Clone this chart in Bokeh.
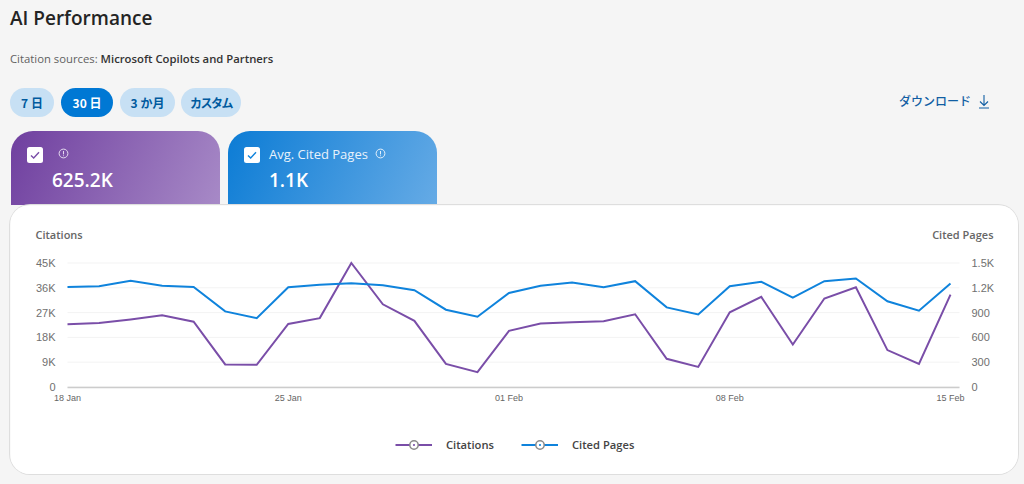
from bokeh.embed import file_html
from bokeh.resources import INLINE
from bokeh.layouts import column
from bokeh.models import (ColumnDataSource, Div, FixedTicker, Label, Legend,
                          LegendItem, LinearAxis, Range1d)
from bokeh.plotting import figure

# values, one per day
dates = ["18 Jan", "19 Jan", "20 Jan", "21 Jan", "22 Jan", "23 Jan", "24 Jan",
         "25 Jan", "26 Jan", "27 Jan", "28 Jan", "29 Jan", "30 Jan", "31 Jan",
         "01 Feb", "02 Feb", "03 Feb", "04 Feb", "05 Feb", "06 Feb", "07 Feb",
         "08 Feb", "09 Feb", "10 Feb", "11 Feb", "12 Feb", "13 Feb", "14 Feb", "15 Feb"]
citations = [22800, 23200, 24500, 26000, 23700, 8200, 8050, 22900, 25000, 45000,
             30000, 24000, 8400, 5400, 20400, 23050, 23500, 23900, 26400, 10250,
             7300, 27100, 32700, 15400, 32100, 36200, 13400, 8400, 33500]
cited_pages = [1211, 1220, 1285, 1224, 1211, 915, 833, 1207, 1236, 1256,
               1232, 1171, 935, 850, 1138, 1224, 1264, 1207, 1280, 963,
               878, 1220, 1272, 1081, 1280, 1313, 1037, 923, 1252]

x_tick_labels = ["18 Jan", "25 Jan", "01 Feb", "08 Feb", "15 Feb"]
left_ticks = [0, 9000, 18000, 27000, 36000, 45000]
left_tick_labels = ["0", "9K", "18K", "27K", "36K", "45K"]
right_ticks = [0, 300, 600, 900, 1200, 1500]
right_tick_labels = ["0", "300", "600", "900", "1.2K", "1.5K"]

periods = ["7 日", "30 日", "3 か月", "カスタム"]
citations_total = "625.2K"
cited_pages_avg = "1.1K"

PURPLE = "#7a4ea8"
BLUE = "#0f83dc"
UI_FONT = "'Open Sans', 'Noto Sans CJK JP', sans-serif"
JP_FONT = "'Noto Sans CJK JP', sans-serif"
TICK_FONT = "Liberation Sans"
SEMIBOLD = "Open Sans SemiBold"


def info_icon(left, top, color):
    return (f'<svg style="position:absolute;left:{left}px;top:{top}px" width="11" height="11" viewBox="0 0 11 11">'
            f'<circle cx="5.5" cy="5.5" r="4.4" fill="none" stroke="{color}" stroke-width="1"/>'
            f'<path d="M5.5 3v3.4M5.5 7.4v.8" stroke="{color}" stroke-width="1"/></svg>')


def checkbox(left, top, color):
    return (f'<svg style="position:absolute;left:{left}px;top:{top}px" width="16" height="16" viewBox="0 0 16 16">'
            f'<rect width="16" height="16" rx="2.5" fill="#fff"/>'
            f'<path d="M4 8.4l2.7 2.6L12 5.3" fill="none" stroke="{color}" stroke-width="1.4"/></svg>')


def header_html():
    parts = [f'<div style="position:relative;width:1024px;height:205px;overflow:hidden;font-family:{UI_FONT}">']
    parts.append(f'<div style="position:absolute;left:10px;top:5px;font:600 19px {UI_FONT};color:#242424;white-space:nowrap">AI Performance</div>')
    parts.append(f'<div style="position:absolute;left:10px;top:51px;font:11.3px {UI_FONT};color:#616161;white-space:nowrap">'
                 f'Citation sources: <span style="font-weight:600;color:#333">Microsoft Copilots and Partners</span></div>')

    pill_left = [10, 61, 120, 181]
    pill_width = [44, 52, 55, 60]
    for i, name in enumerate(periods):
        selected = i == 1
        bg = "#0078d4" if selected else "#c7e0f4"
        fg = "#ffffff" if selected else "#005a9e"
        spacing = "-1.5px" if i == 3 else "0"
        parts.append(f'<div style="position:absolute;left:{pill_left[i]}px;top:88px;width:{pill_width[i]}px;height:29px;'
                     f'border-radius:15px;background:{bg};color:{fg};font:bold 12px/29px {JP_FONT};letter-spacing:{spacing};'
                     f'text-align:center;white-space:nowrap">{name}</div>')

    parts.append(f'<div style="position:absolute;left:899px;top:92px;font:500 12px/18px {JP_FONT};color:#115ea3;white-space:nowrap">ダウンロード</div>')
    parts.append('<svg style="position:absolute;left:978px;top:94px" width="12" height="15" viewBox="0 0 12 15">'
                 '<path d="M6 1v10M2 7.5L6 11.5 10 7.5M1 14h10" fill="none" stroke="#115ea3" stroke-width="1.1"/></svg>')

    # the two metric cards, the chart card covers their lower ends
    parts.append('<div style="position:absolute;left:11px;top:131px;width:209px;height:90px;border-radius:22px 22px 0 0;'
                 'background:linear-gradient(115deg,#6f3f9f 0%,#a98cc8 100%)"></div>')
    parts.append('<div style="position:absolute;left:228px;top:131px;width:209px;height:90px;border-radius:22px 22px 0 0;'
                 'background:linear-gradient(115deg,#0c7cd5 0%,#68ace6 100%)"></div>')
    parts.append(checkbox(27, 147, PURPLE))
    parts.append(checkbox(244, 147, BLUE))
    parts.append(info_icon(58, 148, "#e6dcf0"))
    parts.append(info_icon(375, 148, "#e6f1fb"))
    parts.append(f'<div style="position:absolute;left:269px;top:145px;font:13px/18px {UI_FONT};color:#e8f2fb;white-space:nowrap">Avg. Cited Pages</div>')
    parts.append(f'<div style="position:absolute;left:52px;top:166px;font:600 19px/28px {UI_FONT};color:#fff;white-space:nowrap">{citations_total}</div>')
    parts.append(f'<div style="position:absolute;left:269px;top:166px;font:600 19px/28px {UI_FONT};color:#fff;white-space:nowrap">{cited_pages_avg}</div>')
    parts.append('</div>')
    return "".join(parts)


header = Div(text=header_html(), width=1024, height=205, margin=0)

source = ColumnDataSource(data=dict(x=list(range(len(dates))), date=dates,
                                    citations=citations, cited_pages=cited_pages))

# svg overlays get clipped to the frame, so the frame fills the whole card and the
# axes are pinned inside it. ranges are worked out from the plot area in pixels
CARD_W, CARD_H = 1008, 269
PLOT_LEFT, PLOT_LAST_DAY, PLOT_RIGHT = 57, 940, 949
PLOT_TOP, PLOT_BOTTOM = 57.5, 181.5
days_per_px = (len(dates) - 1) / (PLOT_LAST_DAY - PLOT_LEFT)
value_per_px = max(left_ticks) / (PLOT_BOTTOM - PLOT_TOP)
x_right_edge = (PLOT_RIGHT - PLOT_LEFT) * days_per_px
y_start = -(CARD_H - PLOT_BOTTOM) * value_per_px
y_end = max(left_ticks) + PLOT_TOP * value_per_px
pages_scale = max(right_ticks) / max(left_ticks)

p = figure(width=CARD_W, height=CARD_H, output_backend="svg", toolbar_location=None,
           x_range=Range1d(-PLOT_LEFT * days_per_px, (CARD_W - PLOT_LEFT) * days_per_px),
           y_range=Range1d(y_start, y_end),
           min_border=0, background_fill_color="white", border_fill_color="white",
           outline_line_color=None, margin=(0, 0, 0, 10))
p.styles = {"border-radius": "20px", "overflow": "hidden", "box-shadow": "0 0 0 1px #dedede"}
p.grid.visible = False

p.extra_y_ranges["pages"] = Range1d(y_start * pages_scale, y_end * pages_scale)

# faint rules at the left ticks
p.segment(x0=[0] * len(left_ticks), x1=[x_right_edge] * len(left_ticks), y0=left_ticks, y1=left_ticks,
          color="#f3f3f3", line_width=1)

line_citations = p.line("x", "citations", source=source, color=PURPLE, line_width=2, line_join="miter")
line_pages = p.line("x", "cited_pages", source=source, color=BLUE, line_width=2, line_join="miter",
                    y_range_name="pages")

x_ticks = [dates.index(d) for d in x_tick_labels]
xaxis = p.xaxis[0]
xaxis.fixed_location = 0
xaxis.bounds = (0, x_right_edge)
xaxis.ticker = FixedTicker(ticks=x_ticks)
xaxis.major_label_overrides = dict(zip(x_ticks, x_tick_labels))
xaxis.major_label_text_font = TICK_FONT
xaxis.major_label_text_font_size = "9px"
xaxis.major_label_text_color = "#666666"
xaxis.major_label_standoff = 6
xaxis.major_tick_line_color = None
xaxis.major_tick_out = 0
xaxis.minor_tick_line_color = None
xaxis.axis_line_color = "#cccccc"
xaxis.axis_line_width = 1.5

left_axis = p.yaxis[0]
left_axis.fixed_location = 0
left_axis.ticker = FixedTicker(ticks=left_ticks)
left_axis.major_label_overrides = dict(zip(left_ticks, left_tick_labels))

right_axis = LinearAxis(y_range_name="pages", ticker=FixedTicker(ticks=right_ticks), fixed_location=x_right_edge,
                        major_label_overrides=dict(zip(right_ticks, right_tick_labels)))
p.add_layout(right_axis, "right")

for ax in [left_axis, right_axis]:
    ax.major_label_text_font = TICK_FONT
    ax.major_label_text_font_size = "11px"
    ax.major_label_text_color = "#707070"
    ax.major_label_standoff = 12
    ax.major_tick_line_color = None
    ax.major_tick_out = 0
    ax.minor_tick_line_color = None
    ax.axis_line_color = None

# axis titles sit flat above the tick labels, positions count from the card's lower left
for text, sx, align in [("Citations", 25, "left"), ("Cited Pages", 983, "right")]:
    p.add_layout(Label(x=sx, y=240, x_units="screen", y_units="screen", text=text, text_align=align,
                       text_baseline="middle", text_font=SEMIBOLD, text_font_size="11px",
                       text_color="#666666"))

# hidden markers, only there for the legend symbols
ring_a = p.scatter("x", "citations", source=source, marker="circle", fill_color="white",
                   line_color="#8a8a8a", line_width=1.5, visible=False)
dot_a = p.scatter("x", "citations", source=source, marker="dot", color=PURPLE, line_width=3, visible=False)
ring_b = p.scatter("x", "cited_pages", source=source, marker="circle", fill_color="white",
                   line_color="#8a8a8a", line_width=1.5, visible=False, y_range_name="pages")
dot_b = p.scatter("x", "cited_pages", source=source, marker="dot", color=BLUE, line_width=3, visible=False,
                  y_range_name="pages")

legend = Legend(items=[LegendItem(label="Citations", renderers=[line_citations, ring_a, dot_a]),
                       LegendItem(label="Cited Pages", renderers=[line_pages, ring_b, dot_b])],
                orientation="horizontal", location=(385, 19), glyph_width=37, glyph_height=21,
                label_standoff=14, spacing=27, padding=0, margin=0,
                background_fill_alpha=0, border_line_color=None,
                label_text_font=SEMIBOLD, label_text_font_size="11.2px", label_text_color="#444444")
p.add_layout(legend, "center")

page = column(header, p, spacing=0, width=1024, height=484, styles={"background": "#f5f5f5"})

open("out.html", "w").write(file_html(page, INLINE))
